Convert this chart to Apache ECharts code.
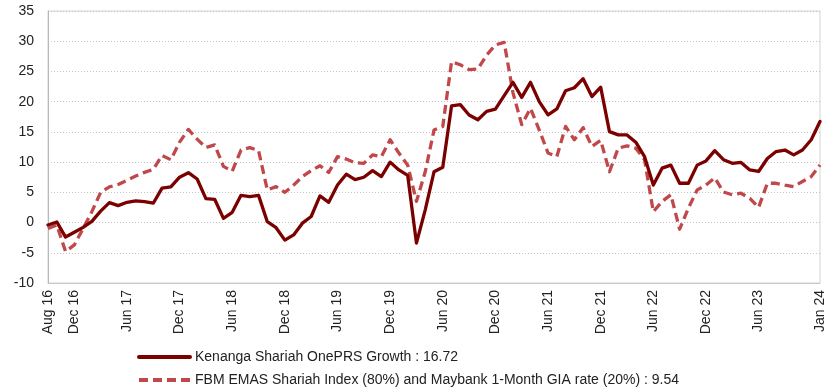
<!DOCTYPE html>
<html>
<head>
<meta charset="utf-8">
<script src="https://cdn.jsdelivr.net/npm/echarts@6/dist/echarts.min.js"></script>
<style>
  html, body { margin: 0; padding: 0; background: #ffffff; }
  #chart { width: 834px; height: 392px; }
</style>
</head>
<body>
<div id="chart"></div>
<script>
// Monthly observation points (first point is the start date)
const months = [
  "Aug 16","Oct 16","Nov 16","Dec 16",
  "Jan 17","Feb 17","Mar 17","Apr 17","May 17","Jun 17","Jul 17","Aug 17","Sep 17","Oct 17","Nov 17","Dec 17",
  "Jan 18","Feb 18","Mar 18","Apr 18","May 18","Jun 18","Jul 18","Aug 18","Sep 18","Oct 18","Nov 18","Dec 18",
  "Jan 19","Feb 19","Mar 19","Apr 19","May 19","Jun 19","Jul 19","Aug 19","Sep 19","Oct 19","Nov 19","Dec 19",
  "Jan 20","Feb 20","Mar 20","Apr 20","May 20","Jun 20","Jul 20","Aug 20","Sep 20","Oct 20","Nov 20","Dec 20",
  "Jan 21","Feb 21","Mar 21","Apr 21","May 21","Jun 21","Jul 21","Aug 21","Sep 21","Oct 21","Nov 21","Dec 21",
  "Jan 22","Feb 22","Mar 22","Apr 22","May 22","Jun 22","Jul 22","Aug 22","Sep 22","Oct 22","Nov 22","Dec 22",
  "Jan 23","Feb 23","Mar 23","Apr 23","May 23","Jun 23","Jul 23","Aug 23","Sep 23","Oct 23","Nov 23","Dec 23",
  "Jan 24"
];

// Dates printed under the x axis
const tickLabels = ["Aug 16","Dec 16","Jun 17","Dec 17","Jun 18","Dec 18","Jun 19","Dec 19",
  "Jun 20","Dec 20","Jun 21","Dec 21","Jun 22","Dec 22","Jun 23","Jan 24"];

const fundName = "Kenanga Shariah OnePRS Growth : 16.72";
const benchName = "FBM EMAS Shariah Index (80%) and Maybank 1-Month GIA rate (20%) : 9.54";

// Fund growth (%)
const fundValues = [
  -0.4, 0.1, -2.4, -1.6, -0.8, 0.2, 1.9, 3.3, 2.8, 3.35, 3.6, 3.45, 3.2, 5.7, 5.9, 7.5,
  8.25, 7.2, 3.95, 3.85, 0.7, 1.7, 4.5, 4.3, 4.5, 0.15, -0.85, -2.9, -2.05, -0.1, 1.0, 4.4,
  3.35, 6.2, 8.0, 7.1, 7.5, 8.6, 7.6, 10.0, 8.7, 7.8, -3.4, 2.1, 8.4, 9.15, 19.3, 19.5,
  17.8, 17.0, 18.4, 18.75, 21.0, 23.2, 20.7, 23.2, 20.0, 17.8, 18.8, 21.8, 22.3, 23.8, 20.85, 22.4,
  15.05, 14.5, 14.5, 13.3, 10.9, 6.2, 9.0, 9.5, 6.5, 6.5, 9.5, 10.2, 11.9, 10.4, 9.8, 9.95,
  8.7, 8.45, 10.6, 11.75, 12.0, 11.2, 12.0, 13.7, 16.72
];

// Benchmark growth (%)
const benchValues = [
  -1.0, -0.4, -4.8, -3.7, -1.0, 1.8, 5.0, 5.9, 6.3, 7.0, 7.7, 8.3, 8.8, 11.1, 10.4, 13.3,
  15.4, 13.8, 12.4, 12.85, 9.3, 8.5, 12.0, 12.4, 11.9, 5.4, 5.95, 5.0, 6.2, 7.6, 8.6, 9.4,
  8.3, 10.9, 10.5, 9.9, 9.8, 11.2, 10.9, 13.7, 11.5, 9.5, 3.5, 8.4, 15.3, 15.9, 26.6, 26.1,
  25.3, 25.4, 27.7, 29.4, 29.8, 21.5, 16.2, 18.9, 15.3, 11.5, 10.9, 15.9, 13.7, 15.7, 12.6, 13.6,
  8.4, 12.3, 12.7, 12.3, 10.4, 1.8, 3.5, 4.6, -1.1, 2.4, 5.4, 6.2, 7.4, 5.05, 4.6, 4.85,
  4.0, 2.5, 6.5, 6.5, 6.2, 5.95, 6.8, 7.6, 9.54
];

const chart = echarts.init(document.getElementById('chart'), null, { renderer: 'canvas' });

const textFont = '"Liberation Sans", Arial, Helvetica, sans-serif';

chart.setOption({
  animation: false,
  backgroundColor: '#ffffff',
  textStyle: { fontFamily: textFont },
  grid: {
    left: 48, right: 14, top: 11, bottom: 109,
    show: true, borderColor: '#d4d4d4', borderWidth: 1, backgroundColor: 'transparent'
  },
  legend: {
    orient: 'vertical',
    left: 137,
    top: 350,
    padding: 0,
    itemWidth: 51,
    itemHeight: 14,
    itemGap: 9,
    itemStyle: { opacity: 0 },
    lineStyle: { width: 4 },
    textStyle: { fontSize: 14, color: '#222', fontFamily: textFont },
    data: [fundName, benchName]
  },
  xAxis: {
    type: 'category',
    boundaryGap: false,
    data: months,
    axisLine: { show: true, onZero: false, lineStyle: { color: '#c8c8c8', width: 1 } },
    axisTick: { show: false },
    splitLine: { show: false },
    axisLabel: {
      rotate: 90,
      margin: 7,
      fontSize: 14,
      color: '#222',
      fontFamily: textFont,
      interval: function (idx, value) { return tickLabels.indexOf(value) !== -1; }
    }
  },
  yAxis: {
    type: 'value',
    min: -10,
    max: 35,
    interval: 5,
    axisLine: { show: true, lineStyle: { color: '#b8b8b8', width: 1 } },
    axisTick: { show: false },
    axisLabel: { fontSize: 14, color: '#222', margin: 14, fontFamily: textFont },
    splitLine: { show: true, lineStyle: { color: '#c4c4c4', type: [1, 2], width: 1 } }
  },
  series: [
    {
      name: fundName,
      type: 'line',
      data: fundValues,
      symbol: 'none',
      lineStyle: { color: '#7b0000', width: 3.3, cap: 'round', join: 'round' },
      itemStyle: { color: '#7b0000' },
      z: 3
    },
    {
      name: benchName,
      type: 'line',
      data: benchValues,
      symbol: 'none',
      lineStyle: { color: '#c0484a', width: 3.3, type: [9, 5], cap: 'butt', join: 'round' },
      itemStyle: { color: '#c0484a' },
      z: 2
    }
  ]
});
</script>
</body>
</html>
